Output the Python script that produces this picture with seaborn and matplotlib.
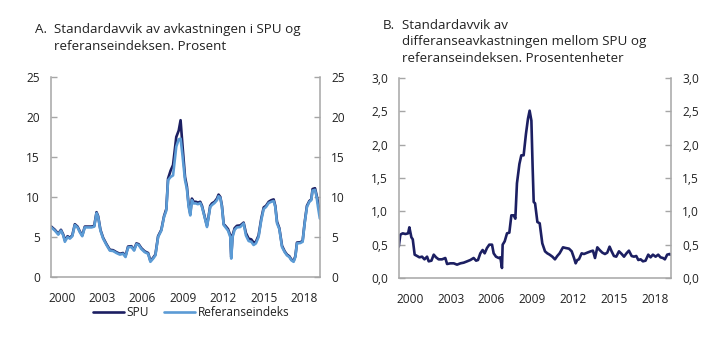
import numpy as np
import pandas as pd
import matplotlib
matplotlib.use("Agg")
import matplotlib.pyplot as plt
import seaborn as sns

# ---------------- data ----------------
years_a = [1999.22, 1999.49, 1999.74, 1999.94, 2000.11, 2000.23, 2000.43, 2000.60, 2000.78, 2000.97,
           2001.17, 2001.34, 2001.52, 2001.71, 2001.96, 2002.21, 2002.41, 2002.58, 2002.70, 2002.87,
           2003.07, 2003.32, 2003.57, 2003.81, 2004.06, 2004.31, 2004.55, 2004.73, 2004.92, 2005.17,
           2005.37, 2005.54, 2005.71, 2005.91, 2006.16, 2006.41, 2006.58, 2006.78, 2006.95, 2007.15,
           2007.39, 2007.59, 2007.76, 2007.89, 2008.08, 2008.26, 2008.50, 2008.68, 2008.82, 2008.95,
           2009.15, 2009.29, 2009.42, 2009.54, 2009.66, 2009.79, 2009.95, 2010.11, 2010.28, 2010.41,
           2010.60, 2010.78, 2010.90, 2011.02, 2011.15, 2011.34, 2011.52, 2011.64, 2011.77, 2011.89,
           2012.02, 2012.14, 2012.34, 2012.51, 2012.58, 2012.68, 2012.83, 2013.00, 2013.25, 2013.50,
           2013.67, 2013.87, 2014.07, 2014.24, 2014.41, 2014.61, 2014.81, 2014.99, 2015.16, 2015.36,
           2015.55, 2015.73, 2015.85, 2015.98, 2016.15, 2016.35, 2016.55, 2016.72, 2016.89, 2017.04,
           2017.21, 2017.34, 2017.46, 2017.71, 2017.88, 2018.03, 2018.20, 2018.38, 2018.52, 2018.62,
           2018.80, 2018.92, 2019.02, 2019.16]

ref_a = [6.2, 5.8, 5.3, 5.8, 5.2, 4.4, 5.0, 4.8, 5.1, 6.5,
         6.2, 5.6, 5.1, 6.2, 6.2, 6.2, 6.3, 8.0, 7.5, 5.8,
         4.8, 4.0, 3.3, 3.25, 3.0, 2.8, 2.9, 2.5, 3.7, 3.75,
         3.3, 4.1, 4.0, 3.5, 3.1, 2.9, 1.9, 2.3, 2.7, 5.0,
         5.8, 7.5, 8.3, 12.1, 12.5, 12.7, 16.3, 17.2, 17.3, 15.4,
         12.1, 11.0, 8.75, 7.7, 9.6, 9.2, 9.2, 9.1, 9.25, 8.75,
         7.5, 6.25, 7.5, 8.75, 9.0, 9.25, 9.6, 10.1, 9.9, 8.75,
         6.5, 6.25, 5.8, 5.0, 2.3, 5.0, 5.9, 6.2, 6.25, 6.7,
         5.2, 4.5, 4.4, 4.0, 4.2, 5.0, 7.1, 8.5, 8.75, 9.25,
         9.4, 9.5, 8.75, 6.7, 6.0, 3.75, 3.1, 2.7, 2.5, 2.1,
         1.9, 2.5, 4.2, 4.25, 4.4, 6.7, 8.75, 9.4, 9.6, 10.8,
         10.9, 10.0, 8.75, 7.3]

spu_a = [6.3, 5.9, 5.4, 5.9, 5.3, 4.6, 5.1, 4.9, 5.2, 6.6,
         6.3, 5.7, 5.2, 6.3, 6.3, 6.3, 6.4, 8.1, 7.6, 5.9,
         4.9, 4.1, 3.4, 3.35, 3.1, 2.9, 3.0, 2.6, 3.8, 3.85,
         3.4, 4.2, 4.1, 3.6, 3.2, 3.0, 2.0, 2.4, 2.8, 5.1,
         5.9, 7.6, 8.5, 12.3, 13.3, 14.0, 17.5, 18.3, 19.6, 16.7,
         12.5, 11.3, 9.0, 7.9, 9.8, 9.4, 9.4, 9.3, 9.4, 8.9,
         7.6, 6.4, 7.6, 8.9, 9.2, 9.4, 9.8, 10.3, 10.0, 8.9,
         6.6, 6.4, 6.0, 5.2, 2.5, 5.2, 6.1, 6.4, 6.45, 6.8,
         5.5, 4.8, 4.7, 4.3, 4.4, 5.2, 7.3, 8.7, 8.9, 9.4,
         9.6, 9.7, 8.9, 6.9, 6.1, 3.9, 3.2, 2.8, 2.6, 2.2,
         2.0, 2.6, 4.3, 4.35, 4.5, 6.8, 8.9, 9.5, 9.7, 11.0,
         11.1, 10.2, 9.3, 8.0]

years_b = [1999.18, 1999.30, 1999.47, 1999.67, 1999.87, 1999.96, 2000.11, 2000.21, 2000.35, 2000.53,
           2000.70, 2000.89, 2001.07, 2001.26, 2001.38, 2001.58, 2001.75, 2001.92, 2002.11, 2002.36,
           2002.60, 2002.73, 2002.97, 2003.22, 2003.46, 2003.71, 2003.95, 2004.20, 2004.44, 2004.68,
           2004.86, 2005.00, 2005.17, 2005.34, 2005.49, 2005.66, 2005.83, 2006.03, 2006.15, 2006.32,
           2006.52, 2006.64, 2006.76, 2006.81, 2006.96, 2007.13, 2007.30, 2007.45, 2007.62, 2007.74,
           2007.86, 2008.04, 2008.18, 2008.35, 2008.52, 2008.67, 2008.79, 2008.92, 2009.01, 2009.09,
           2009.19, 2009.36, 2009.53, 2009.72, 2009.92, 2010.09, 2010.26, 2010.46, 2010.65, 2010.82,
           2010.99, 2011.24, 2011.44, 2011.68, 2011.88, 2012.05, 2012.17, 2012.29, 2012.41, 2012.61,
           2012.78, 2013.02, 2013.27, 2013.44, 2013.59, 2013.76, 2013.93, 2014.13, 2014.32, 2014.49,
           2014.66, 2014.81, 2014.98, 2015.15, 2015.35, 2015.55, 2015.72, 2015.90, 2016.08, 2016.28,
           2016.45, 2016.62, 2016.77, 2016.94, 2017.11, 2017.30, 2017.50, 2017.67, 2017.84, 2018.04,
           2018.23, 2018.40, 2018.58, 2018.72, 2018.89, 2019.07, 2019.14]

diff_b = [0.47, 0.65, 0.67, 0.66, 0.67, 0.76, 0.61, 0.58, 0.35, 0.33,
          0.31, 0.32, 0.28, 0.32, 0.25, 0.26, 0.35, 0.31, 0.28, 0.28,
          0.30, 0.21, 0.22, 0.22, 0.20, 0.22, 0.23, 0.25, 0.27, 0.30,
          0.26, 0.27, 0.37, 0.42, 0.37, 0.45, 0.50, 0.50, 0.37, 0.32,
          0.30, 0.31, 0.15, 0.50, 0.55, 0.67, 0.68, 0.94, 0.94, 0.89,
          1.42, 1.71, 1.84, 1.84, 2.16, 2.39, 2.51, 2.36, 1.67, 1.14,
          1.12, 0.84, 0.82, 0.52, 0.40, 0.37, 0.35, 0.32, 0.28, 0.33,
          0.37, 0.46, 0.45, 0.44, 0.40, 0.30, 0.22, 0.27, 0.28, 0.37,
          0.36, 0.38, 0.40, 0.41, 0.30, 0.46, 0.42, 0.38, 0.36, 0.38,
          0.47, 0.40, 0.33, 0.32, 0.40, 0.36, 0.32, 0.37, 0.41, 0.33,
          0.32, 0.33, 0.27, 0.28, 0.25, 0.26, 0.35, 0.31, 0.35, 0.32,
          0.35, 0.31, 0.30, 0.28, 0.35, 0.36, 0.35]

series_names = ["SPU", "Referanseindeks"]
x_ticks = [2000, 2003, 2006, 2009, 2012, 2015, 2018]
yticks_a = [0, 5, 10, 15, 20, 25]
yticks_b = [0.0, 0.5, 1.0, 1.5, 2.0, 2.5, 3.0]
title_a = ["Standardavvik av avkastningen i SPU og", "referanseindeksen. Prosent"]
title_b = ["Standardavvik av", "differanseavkastningen mellom SPU og", "referanseindeksen. Prosentenheter"]

# ---------------- style ----------------
sns.set_theme(style="white")
plt.rcParams["font.family"] = ["Open Sans", "DejaVu Sans"]
NAVY = "#1c1f62"
LIGHT = "#5b9bd5"
GRAY = "#a6a6a6"
TXT = "#222222"

W, H = 720, 341
fig = plt.figure(figsize=(7.2, 3.41), dpi=100)

def px_axes(l, t, r, b):
    return fig.add_axes([l / W, 1 - b / H, (r - l) / W, (b - t) / H])

axA = px_axes(51, 77, 320, 277)
axB = px_axes(399, 78, 671, 278)

dfA = pd.DataFrame({
    "year": years_a + years_a,
    "value": spu_a + ref_a,
    "series": [series_names[0]] * len(years_a) + [series_names[1]] * len(years_a),
})
dfB = pd.DataFrame({"year": years_b, "value": diff_b})

sns.lineplot(data=dfA, x="year", y="value", hue="series", palette=[NAVY, LIGHT],
             linewidth=1.9, ax=axA, legend=False, estimator=None, sort=False)
sns.lineplot(data=dfB, x="year", y="value", color=NAVY, linewidth=1.9, ax=axB,
             estimator=None, sort=False)

xlim = (1999.2, 2019.17)

def fmt_comma(v):
    return f"{v:.1f}".replace(".", ",")

for ax, yt, ylim, labels in [
    (axA, yticks_a, (0, 25), [str(v) for v in yticks_a]),
    (axB, yticks_b, (0, 3.0), [fmt_comma(v) for v in yticks_b]),
]:
    ax.set_xlim(*xlim)
    ax.set_ylim(*ylim)
    ax.set_xticks(x_ticks)
    ax.set_xticklabels([str(v) for v in x_ticks])
    ax.set_yticks(yt)
    ax.set_yticklabels(labels)
    ax.set_xlabel("")
    ax.set_ylabel("")
    ax.tick_params(axis="y", which="both", left=True, right=True, labelleft=True,
                   labelright=True, direction="in", length=4, width=1, color=GRAY,
                   labelsize=8.6, labelcolor=TXT, pad=8)
    ax.tick_params(axis="x", bottom=False, labelsize=8.6, labelcolor=TXT, pad=5)
    for s in ["left", "right", "bottom"]:
        ax.spines[s].set_visible(True)
        ax.spines[s].set_color(GRAY)
        ax.spines[s].set_linewidth(1.1)
    ax.spines["top"].set_visible(False)
    ax.grid(False)
    ax.set_facecolor("white")

# titles
def ftext(x, y, s, **kw):
    fig.text(x / W, 1 - y / H, s, fontsize=9.6, color=TXT, va="baseline", ha="left", **kw)

ftext(35, 33, "A.")
for i, line in enumerate(title_a):
    ftext(54, 33 + 16.5 * i, line)

ftext(383, 29, "B.")
for i, line in enumerate(title_b):
    ftext(402, 29 + 16.5 * i, line)

# legend
from matplotlib.lines import Line2D
handles = [Line2D([], [], color=NAVY, lw=1.9), Line2D([], [], color=LIGHT, lw=1.9)]
fig.legend(handles, series_names, loc="center", bbox_to_anchor=(191 / W, 1 - 313 / H),
           ncol=2, frameon=False, fontsize=8.6, handlelength=2.6, handletextpad=0.2,
           columnspacing=1.3, labelcolor=TXT)

fig.savefig("out.png", dpi=100, facecolor="white")
